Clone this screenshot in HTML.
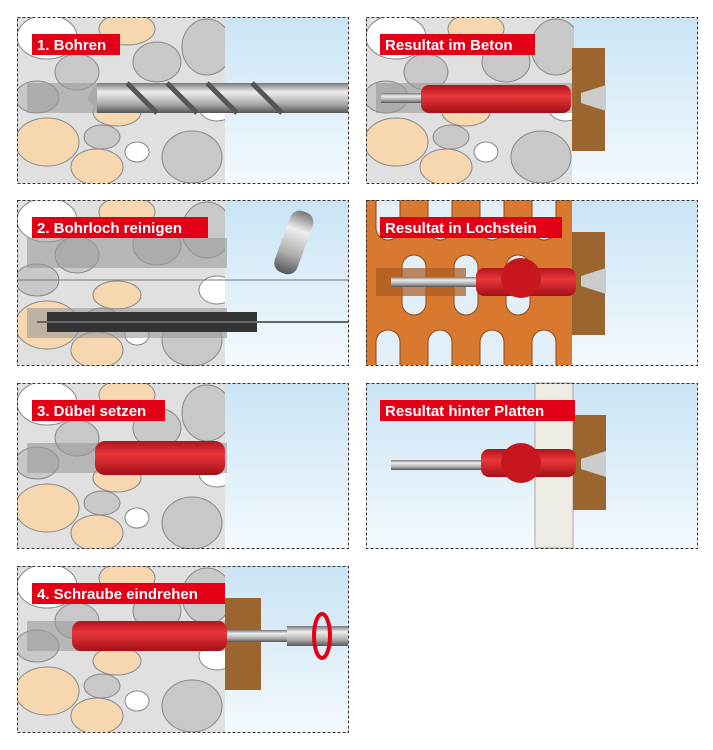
<!DOCTYPE html>
<html><head><meta charset="utf-8"><style>
body{margin:0;background:#fff;width:713px;height:750px;overflow:hidden}
svg{display:block}
text{font-family:"Liberation Sans",sans-serif;font-weight:bold;font-size:15px;fill:#fff}
</style></head><body>
<svg width="713" height="750" viewBox="0 0 713 750">
<defs>
<linearGradient id="sky" x1="0" y1="0" x2="0" y2="1"><stop offset="0" stop-color="#c9e4f4"/><stop offset="1" stop-color="#f4f9fd"/></linearGradient>
<linearGradient id="steel" x1="0" y1="0" x2="0" y2="1"><stop offset="0" stop-color="#777"/><stop offset=".3" stop-color="#eee"/><stop offset=".7" stop-color="#aaa"/><stop offset="1" stop-color="#555"/></linearGradient>
<linearGradient id="red" x1="0" y1="0" x2="0" y2="1"><stop offset="0" stop-color="#b3121b"/><stop offset=".4" stop-color="#e8383a"/><stop offset="1" stop-color="#a40f18"/></linearGradient>
<g id="stones" stroke="#888" stroke-width="1">
<ellipse cx="30" cy="20" rx="30" ry="22" fill="#fff"/>
<ellipse cx="110" cy="12" rx="28" ry="16" fill="#f6d7b0"/>
<ellipse cx="60" cy="55" rx="22" ry="18" fill="#c8c8c8"/>
<ellipse cx="140" cy="45" rx="24" ry="20" fill="#c8c8c8"/>
<ellipse cx="190" cy="30" rx="25" ry="28" fill="#c8c8c8"/>
<ellipse cx="20" cy="80" rx="22" ry="16" fill="#c8c8c8"/>
<ellipse cx="100" cy="95" rx="24" ry="14" fill="#f6d7b0"/>
<ellipse cx="30" cy="125" rx="32" ry="24" fill="#f6d7b0"/>
<ellipse cx="85" cy="120" rx="18" ry="12" fill="#c8c8c8"/>
<ellipse cx="120" cy="135" rx="12" ry="10" fill="#fff"/>
<ellipse cx="80" cy="150" rx="26" ry="18" fill="#f6d7b0"/>
<ellipse cx="175" cy="140" rx="30" ry="26" fill="#c8c8c8"/>
<ellipse cx="200" cy="90" rx="18" ry="14" fill="#fff"/>
</g>
<clipPath id="c1"><rect x="0" y="0" width="208" height="166"/></clipPath>
<clipPath id="c2"><rect x="0" y="0" width="331" height="165"/></clipPath>
</defs>

<!-- Panel L1 -->
<g transform="translate(17,17)">
<rect width="331" height="166" fill="url(#sky)"/>
<rect width="208" height="166" fill="#e0e0e0"/>
<use href="#stones" clip-path="url(#c1)"/>
<rect x="10" y="66" width="200" height="30" fill="#999" opacity=".6"/>
<rect x="80" y="66" width="251" height="30" fill="url(#steel)"/>
<polygon points="80,66 70,81 80,96" fill="#aaa"/>
<path d="M110 66 L140 96 M150 66 L180 96 M190 66 L220 96 M235 66 L265 96" stroke="#555" stroke-width="5"/>
</g>
<rect x="32" y="34" width="88" height="21" fill="#e30016"/><text x="37" y="50">1. Bohren</text>

<!-- Panel R1 -->
<g transform="translate(366,17)">
<rect width="331" height="166" fill="url(#sky)"/>
<rect width="206" height="166" fill="#e0e0e0"/>
<use href="#stones" clip-path="url(#c1)"/>
<rect x="10" y="66" width="200" height="30" fill="#999" opacity=".6"/>
<rect x="206" y="31" width="33" height="103" fill="#9b6530"/>
<rect x="15" y="76" width="50" height="10" fill="url(#steel)"/>
<rect x="55" y="68" width="150" height="28" rx="8" fill="url(#red)"/>
<polygon points="215,76 240,68 240,94 215,86" fill="#ccc"/>
</g>
<rect x="380" y="34" width="155" height="21" fill="#e30016"/><text x="385" y="50">Resultat im Beton</text>

<!-- Panel L2 -->
<g transform="translate(17,200)">
<rect width="331" height="165" fill="url(#sky)"/>
<rect width="208" height="165" fill="#e0e0e0"/>
<use href="#stones" clip-path="url(#c1)"/>
<rect x="10" y="38" width="200" height="30" fill="#999" opacity=".6"/>
<line x1="0" y1="80" x2="331" y2="80" stroke="#777"/>
<rect x="10" y="108" width="200" height="30" fill="#999" opacity=".6"/>
<rect x="30" y="112" width="210" height="20" fill="#333"/>
<line x1="20" y1="122" x2="331" y2="122" stroke="#666" stroke-width="2"/>
<rect x="265" y="10" width="24" height="65" rx="10" fill="url(#steel)" transform="rotate(20 277 42)"/>
</g>
<rect x="32" y="217" width="176" height="21" fill="#e30016"/><text x="37" y="233">2. Bohrloch reinigen</text>

<!-- Panel L3 -->
<g transform="translate(17,383)">
<rect width="331" height="165" fill="url(#sky)"/>
<rect width="208" height="165" fill="#e0e0e0"/>
<use href="#stones" clip-path="url(#c1)"/>
<rect x="10" y="60" width="200" height="30" fill="#999" opacity=".6"/>
<rect x="78" y="58" width="130" height="34" rx="10" fill="url(#red)"/>
</g>
<rect x="32" y="400" width="133" height="21" fill="#e30016"/><text x="37" y="416">3. Dübel setzen</text>

<!-- Panel R2 -->
<g transform="translate(366,200)">
<g clip-path="url(#c2)">
<rect width="331" height="165" fill="url(#sky)"/>
<rect width="206" height="165" fill="#d9782f"/>
<g fill="#e2eff8" stroke="#8a4a14">
<rect x="10" y="-20" width="24" height="60" rx="12"/><rect x="62" y="-20" width="24" height="60" rx="12"/><rect x="114" y="-20" width="24" height="60" rx="12"/><rect x="166" y="-20" width="24" height="60" rx="12"/>
<rect x="36" y="55" width="24" height="60" rx="12"/><rect x="88" y="55" width="24" height="60" rx="12"/><rect x="140" y="55" width="24" height="60" rx="12"/>
<rect x="10" y="130" width="24" height="60" rx="12"/><rect x="62" y="130" width="24" height="60" rx="12"/><rect x="114" y="130" width="24" height="60" rx="12"/><rect x="166" y="130" width="24" height="60" rx="12"/>
</g>
<rect x="10" y="68" width="90" height="28" fill="#a85a20" opacity=".7"/>
<rect x="206" y="32" width="33" height="103" fill="#9b6530"/>
<rect x="25" y="77" width="90" height="10" fill="url(#steel)"/>
<rect x="110" y="68" width="100" height="28" rx="8" fill="url(#red)"/>
<circle cx="155" cy="78" r="20" fill="#c8161e"/>
<polygon points="215,76 240,68 240,94 215,86" fill="#ccc"/>
</g>
</g>
<rect x="380" y="217" width="182" height="21" fill="#e30016"/><text x="385" y="233">Resultat in Lochstein</text>

<!-- Panel R3 -->
<g transform="translate(366,383)">
<rect width="331" height="165" fill="url(#sky)"/>
<rect x="169" y="0" width="38" height="165" fill="#eeeae4" stroke="#aaa"/>
<rect x="207" y="32" width="33" height="95" fill="#9b6530"/>
<rect x="25" y="77" width="95" height="10" fill="url(#steel)"/>
<rect x="115" y="66" width="95" height="28" rx="8" fill="url(#red)"/>
<circle cx="155" cy="80" r="20" fill="#c8161e"/>
<polygon points="215,76 240,68 240,94 215,86" fill="#ccc"/>
</g>
<rect x="380" y="400" width="195" height="21" fill="#e30016"/><text x="385" y="416">Resultat hinter Platten</text>

<!-- Panel L4 -->
<g transform="translate(17,566)">
<rect width="331" height="166" fill="url(#sky)"/>
<rect width="208" height="166" fill="#e0e0e0"/>
<use href="#stones" clip-path="url(#c1)"/>
<rect x="10" y="55" width="200" height="30" fill="#999" opacity=".6"/>
<rect x="208" y="32" width="36" height="92" fill="#9b6530"/>
<rect x="55" y="55" width="155" height="30" rx="9" fill="url(#red)"/>
<rect x="210" y="64" width="60" height="12" fill="url(#steel)"/>
<rect x="270" y="60" width="61" height="20" fill="url(#steel)"/>
<ellipse cx="305" cy="70" rx="8" ry="22" fill="none" stroke="#e30016" stroke-width="4"/>
</g>
<rect x="32" y="583" width="193" height="21" fill="#e30016"/><text x="37" y="599">4. Schraube eindrehen</text>

<g fill="none" stroke="#333" stroke-dasharray="3,2">
<rect x="17.5" y="17.5" width="331" height="166"/>
<rect x="366.5" y="17.5" width="331" height="166"/>
<rect x="17.5" y="200.5" width="331" height="165"/>
<rect x="366.5" y="200.5" width="331" height="165"/>
<rect x="17.5" y="383.5" width="331" height="165"/>
<rect x="366.5" y="383.5" width="331" height="165"/>
<rect x="17.5" y="566.5" width="331" height="166"/>
</g>
</svg>
</body></html>
